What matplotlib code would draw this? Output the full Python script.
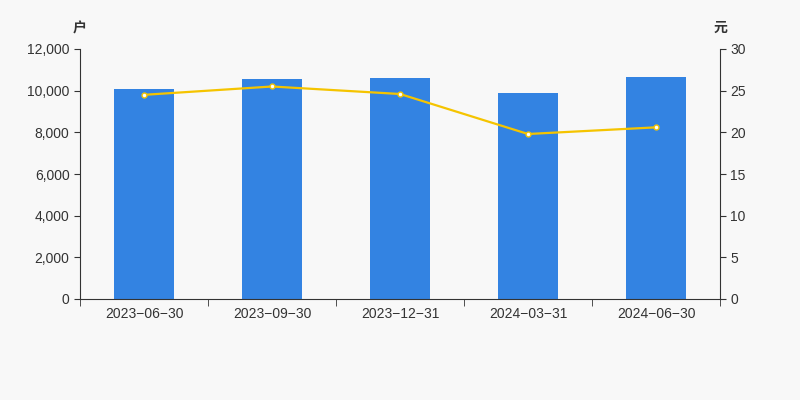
import matplotlib.pyplot as plt
import numpy as np

plt.rcParams['font.family'] = ['Liberation Sans', 'Noto Sans CJK SC', 'DejaVu Sans']

dates = ["2023-06-30", "2023-09-30", "2023-12-31", "2024-03-31", "2024-06-30"]
households = [10080, 10570, 10610, 9870, 10650]
avg_value = [24.5, 25.5, 24.6, 19.8, 20.6]

bg = "#f8f8f8"
fig = plt.figure(figsize=(8, 4), dpi=100, facecolor=bg)
ax = fig.add_axes([0.1, 0.2525, 0.8, 0.625], facecolor=bg)
ax2 = ax.twinx()

x = np.arange(len(dates))
ax.bar(x, households, width=0.47, color="#3383e2", zorder=2)
ax2.plot(x, avg_value, color="#f5c400", lw=1.6, marker="o", ms=3.5,
         mfc="white", mec="#f5c400", mew=1.0, zorder=3)

ax.set_xlim(-0.5, len(dates) - 0.5)
ax.set_ylim(0, 12000)
ax2.set_ylim(0, 30)
ax.set_yticks(np.arange(0, 12001, 2000))
ax.set_yticklabels([f"{v:,}" for v in range(0, 12001, 2000)])
ax2.set_yticks(np.arange(0, 31, 5))

ax.set_xticks(x)
ax.set_xticklabels([d.replace("-", "\u2212") for d in dates])
ax.set_xticks(np.arange(-0.5, len(dates)), minor=True)
ax.tick_params(axis="x", which="major", length=0, pad=6)
ax.tick_params(axis="x", which="minor", length=5, color="#333333")

txt = "#333333"
for a in (ax, ax2):
    for s in a.spines.values():
        s.set_visible(False)
    a.tick_params(axis="y", length=4, color="#333333", labelcolor=txt, labelsize=10)
ax.tick_params(axis="x", labelcolor=txt, labelsize=10)
ax.spines["left"].set_visible(True)
ax.spines["bottom"].set_visible(True)
ax2.spines["right"].set_visible(True)
for s in (ax.spines["left"], ax.spines["bottom"], ax2.spines["right"]):
    s.set_color("#333333")

fig.text(0.1, 0.93, "户", ha="center", va="center", fontsize=10, color=txt,
         fontweight="bold")
fig.text(0.9, 0.93, "元", ha="center", va="center", fontsize=10, color=txt,
         fontweight="bold")

fig.savefig("out.png", dpi=100, facecolor=bg)
